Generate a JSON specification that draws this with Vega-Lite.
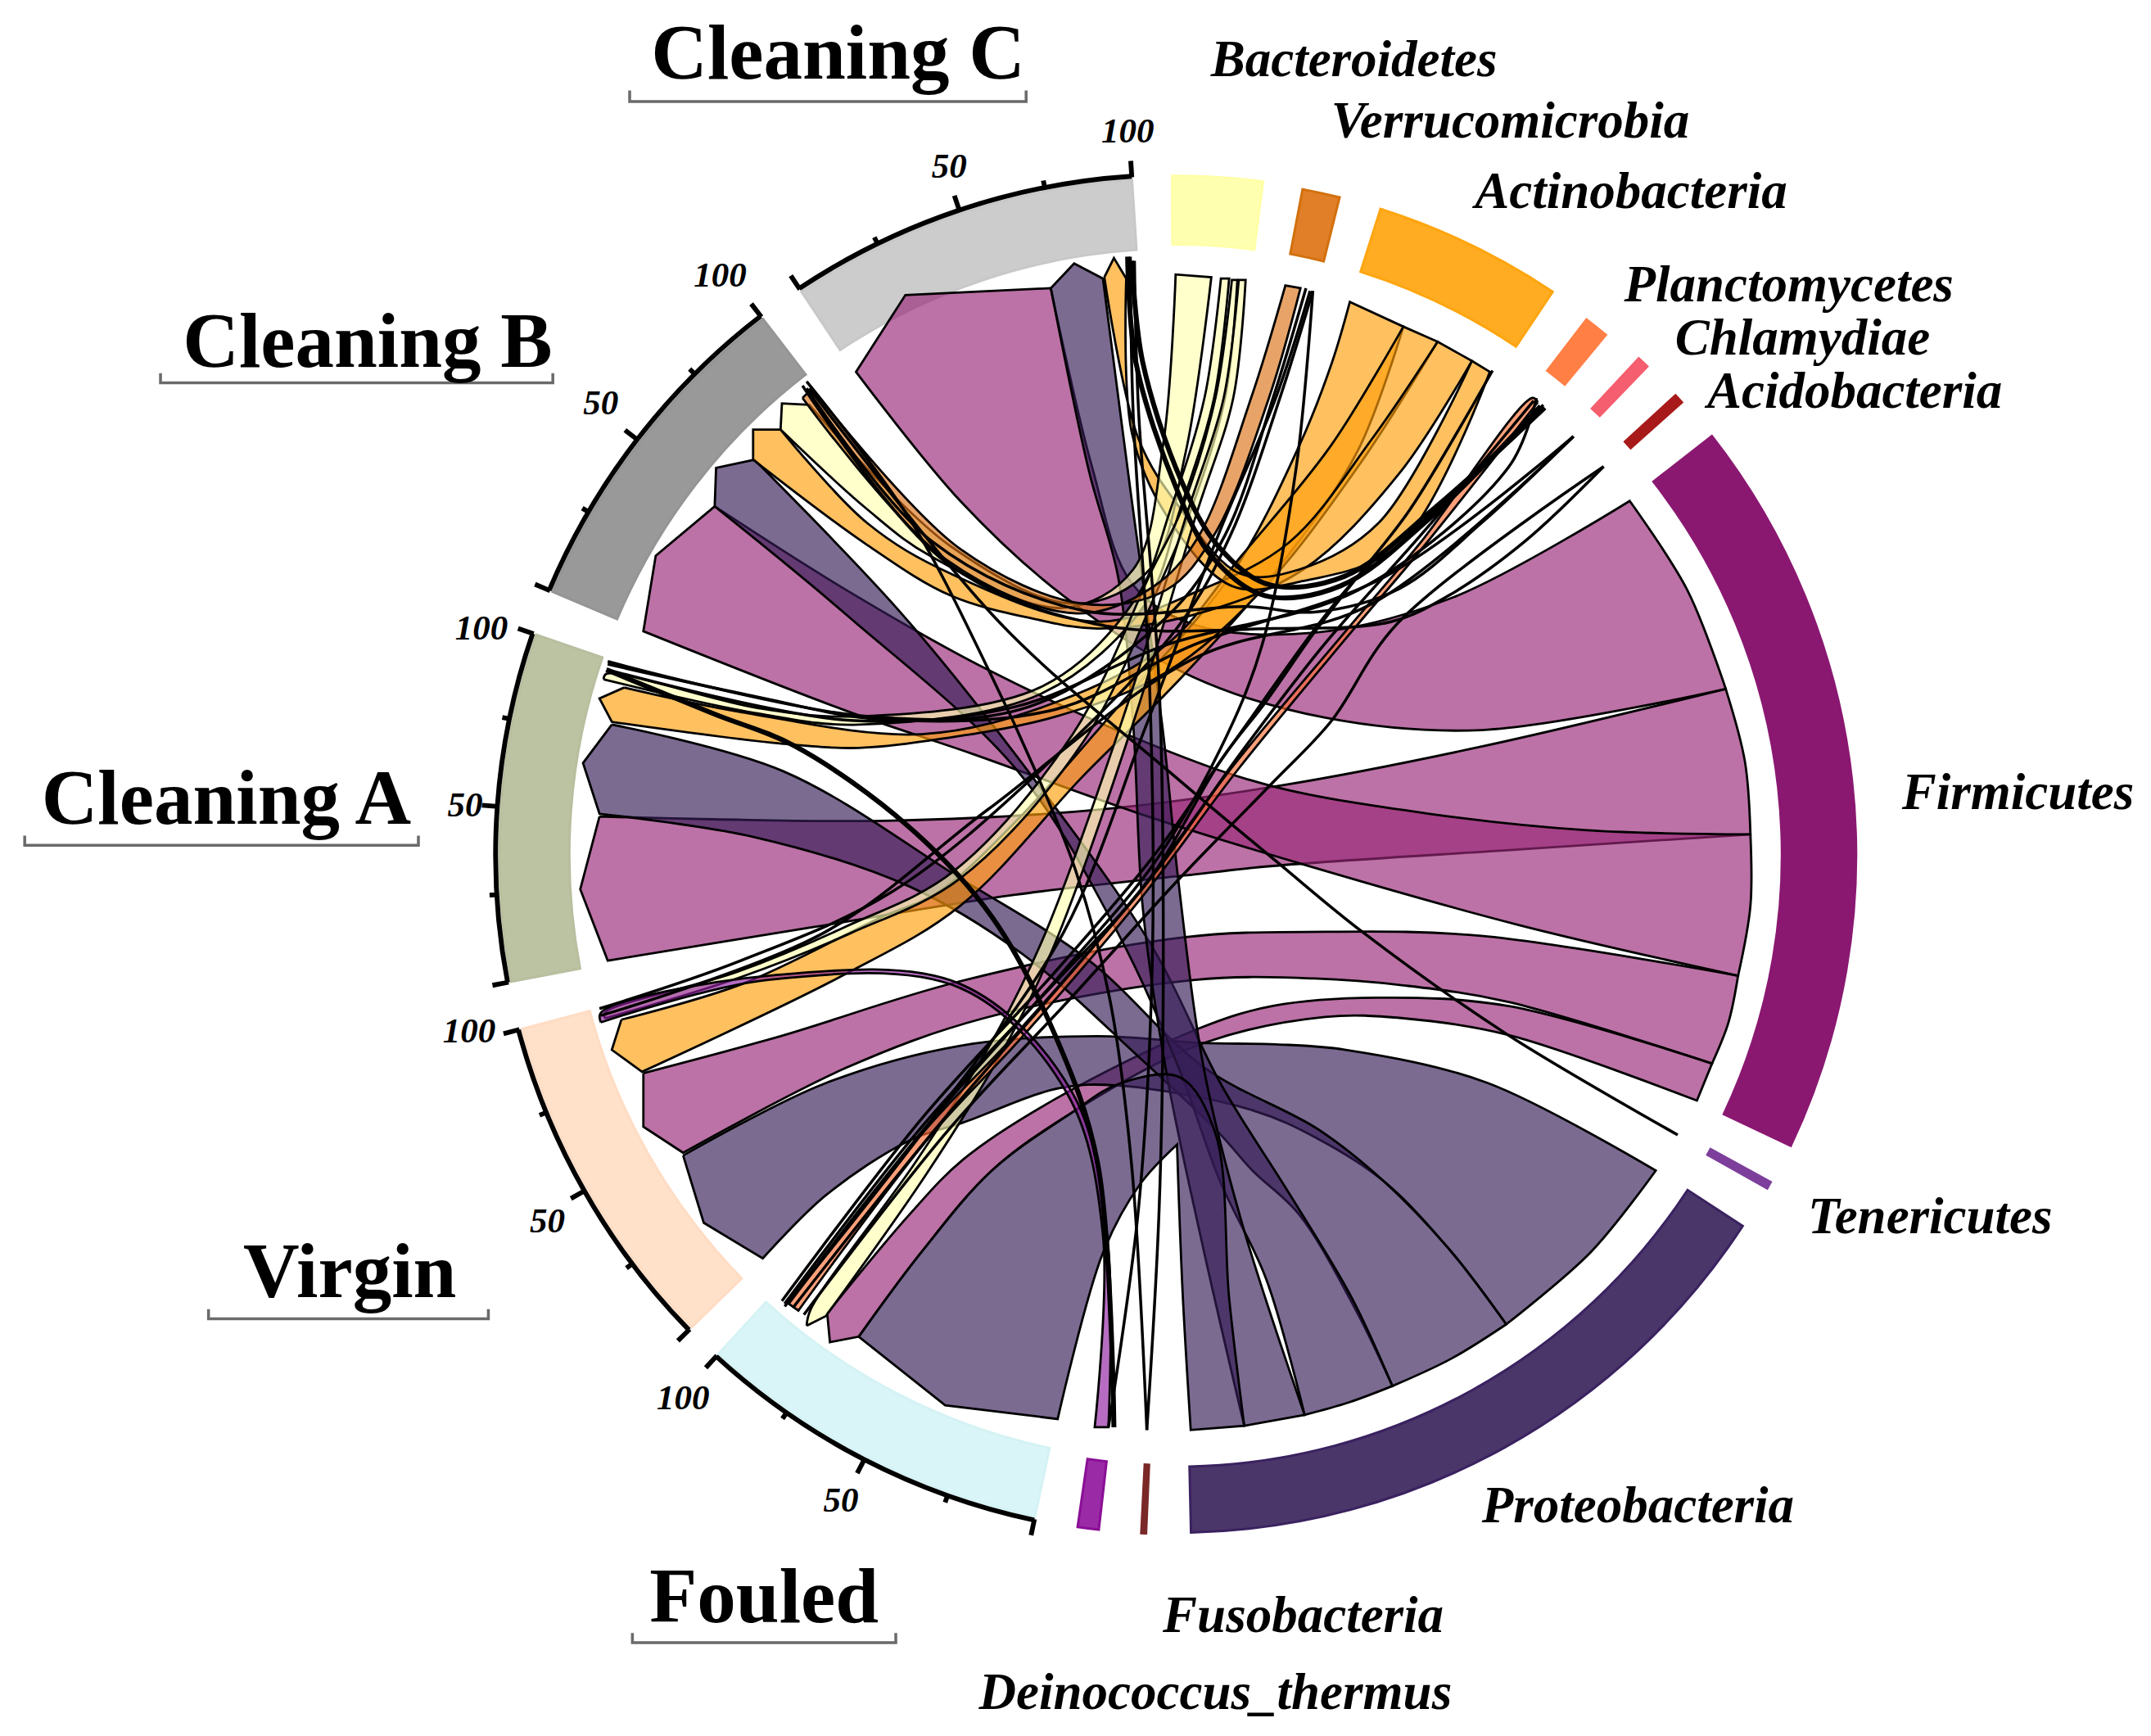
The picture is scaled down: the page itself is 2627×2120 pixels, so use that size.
{"$schema":"https://vega.github.io/schema/vega-lite/v6.json","width":2627,"height":2120,"padding":0,"autosize":{"type":"none"},"background":"white",
"config":{"view":{"stroke":null}},
"datasets":{
"sectors":[
{"name":"Cleaning C","a0":-33.6,"a1":-3.7,"r0":442,"r1":493},
{"name":"Cleaning B","a0":-67.1,"a1":-37.6,"r0":442,"r1":493},
{"name":"Cleaning A","a0":-100.8,"a1":-71,"r0":442,"r1":493},
{"name":"Virgin","a0":-134.3,"a1":-104.9,"r0":442,"r1":493},
{"name":"Fouled","a0":-168,"a1":-137.5,"r0":442,"r1":493},
{"name":"Fusobacteria","a0":-173.5,"a1":-171.7,"r0":445,"r1":495},
{"name":"Deinococcus_thermus","a0":-177.5,"a1":-177.1,"r0":445,"r1":495},
{"name":"Proteobacteria","a0":123.2,"a1":178.7,"r0":446,"r1":494},
{"name":"Tenericutes","a0":118.8,"a1":119.4,"r0":445,"r1":495},
{"name":"Firmicutes","a0":52,"a1":115.3,"r0":442,"r1":496},
{"name":"Acidobacteria","a0":47.4,"a1":48.2,"r0":445,"r1":495},
{"name":"Chlamydiae","a0":43,"a1":44,"r0":445,"r1":495},
{"name":"Planctomycetes","a0":37.5,"a1":39.6,"r0":445,"r1":492},
{"name":"Actinobacteria","a0":17.6,"a1":33.8,"r0":446,"r1":494},
{"name":"Verrucomicrobia","a0":10.8,"a1":14,"r0":446,"r1":494},
{"name":"Bacteroidetes","a0":-0.3,"a1":7.4,"r0":445,"r1":495}],
"axes":[
{"a0":-33.6,"a1":-3.7,"r0":494,"r1":497.5},{"a0":-67.1,"a1":-37.6,"r0":494,"r1":497.5},{"a0":-100.8,"a1":-71,"r0":494,"r1":497.5},{"a0":-134.3,"a1":-104.9,"r0":494,"r1":497.5},{"a0":-168,"a1":-137.5,"r0":494,"r1":497.5},
{"a0":-33.8,"a1":-33.4,"r0":495,"r1":507},{"a0":-26.2,"a1":-25.8,"r0":495,"r1":501},{"a0":-18.75,"a1":-18.35,"r0":495,"r1":507},{"a0":-11.3,"a1":-10.9,"r0":495,"r1":501},{"a0":-3.9,"a1":-3.5,"r0":495,"r1":507},
{"a0":-67.3,"a1":-66.9,"r0":495,"r1":507},{"a0":-59.9,"a1":-59.5,"r0":495,"r1":501},{"a0":-52.55,"a1":-52.15,"r0":495,"r1":507},{"a0":-45.2,"a1":-44.8,"r0":495,"r1":501},{"a0":-37.8,"a1":-37.4,"r0":495,"r1":507},
{"a0":-101,"a1":-100.6,"r0":495,"r1":507},{"a0":-93.55,"a1":-93.15,"r0":495,"r1":501},{"a0":-86.1,"a1":-85.7,"r0":495,"r1":507},{"a0":-78.65,"a1":-78.25,"r0":495,"r1":501},{"a0":-71.2,"a1":-70.8,"r0":495,"r1":507},
{"a0":-134.5,"a1":-134.1,"r0":495,"r1":507},{"a0":-127.15,"a1":-126.75,"r0":495,"r1":501},{"a0":-119.8,"a1":-119.4,"r0":495,"r1":507},{"a0":-112.45,"a1":-112.05,"r0":495,"r1":501},{"a0":-105.1,"a1":-104.7,"r0":495,"r1":507},
{"a0":-168.2,"a1":-167.8,"r0":495,"r1":507},{"a0":-160.6,"a1":-160.2,"r0":495,"r1":501},{"a0":-152.95,"a1":-152.55,"r0":495,"r1":507},{"a0":-145.3,"a1":-144.9,"r0":495,"r1":501},{"a0":-137.7,"a1":-137.3,"r0":495,"r1":507}],
"ribbons":[
{"r":"F1","p":"Firmicutes","x":766,"y":210},{"r":"F1","p":"Firmicutes","x":766,"y":210},{"r":"F1","p":"Firmicutes","x":660,"y":215},{"r":"F1","p":"Firmicutes","x":660,"y":215},{"r":"F1","p":"Firmicutes","x":624,"y":271},{"r":"F1","p":"Firmicutes","x":624,"y":271},{"r":"F1","p":"Firmicutes","x":700,"y":365},{"r":"F1","p":"Firmicutes","x":775,"y":434},{"r":"F1","p":"Firmicutes","x":869,"y":493},{"r":"F1","p":"Firmicutes","x":966,"y":523},{"r":"F1","p":"Firmicutes","x":1080,"y":532},{"r":"F1","p":"Firmicutes","x":1258,"y":502},{"r":"F1","p":"Firmicutes","x":1258,"y":502},{"r":"F1","p":"Firmicutes","x":1230,"y":430},{"r":"F1","p":"Firmicutes","x":1188,"y":365},{"r":"F1","p":"Firmicutes","x":1188,"y":365},{"r":"F1","p":"Firmicutes","x":1060,"y":435},{"r":"F1","p":"Firmicutes","x":958,"y":461},{"r":"F1","p":"Firmicutes","x":870,"y":455},{"r":"F1","p":"Firmicutes","x":825,"y":425},{"r":"F1","p":"Firmicutes","x":796,"y":340},{"r":"F1","p":"Firmicutes","x":766,"y":210},
{"r":"F2","p":"Firmicutes","x":437,"y":595},{"r":"F2","p":"Firmicutes","x":437,"y":595},{"r":"F2","p":"Firmicutes","x":423,"y":648},{"r":"F2","p":"Firmicutes","x":423,"y":648},{"r":"F2","p":"Firmicutes","x":443,"y":700},{"r":"F2","p":"Firmicutes","x":443,"y":700},{"r":"F2","p":"Firmicutes","x":590,"y":676},{"r":"F2","p":"Firmicutes","x":740,"y":652},{"r":"F2","p":"Firmicutes","x":863,"y":638},{"r":"F2","p":"Firmicutes","x":928,"y":631},{"r":"F2","p":"Firmicutes","x":1107,"y":619},{"r":"F2","p":"Firmicutes","x":1276,"y":608},{"r":"F2","p":"Firmicutes","x":1276,"y":608},{"r":"F2","p":"Firmicutes","x":1272,"y":555},{"r":"F2","p":"Firmicutes","x":1258,"y":502},{"r":"F2","p":"Firmicutes","x":1258,"y":502},{"r":"F2","p":"Firmicutes","x":1080,"y":544},{"r":"F2","p":"Firmicutes","x":936,"y":572},{"r":"F2","p":"Firmicutes","x":800,"y":590},{"r":"F2","p":"Firmicutes","x":651,"y":598},{"r":"F2","p":"Firmicutes","x":520,"y":597},{"r":"F2","p":"Firmicutes","x":437,"y":595},
{"r":"F3","p":"Firmicutes","x":521,"y":369},{"r":"F3","p":"Firmicutes","x":521,"y":369},{"r":"F3","p":"Firmicutes","x":478,"y":405},{"r":"F3","p":"Firmicutes","x":478,"y":405},{"r":"F3","p":"Firmicutes","x":469,"y":460},{"r":"F3","p":"Firmicutes","x":469,"y":460},{"r":"F3","p":"Firmicutes","x":617,"y":518},{"r":"F3","p":"Firmicutes","x":708,"y":549},{"r":"F3","p":"Firmicutes","x":831,"y":593},{"r":"F3","p":"Firmicutes","x":947,"y":629},{"r":"F3","p":"Firmicutes","x":1107,"y":674},{"r":"F3","p":"Firmicutes","x":1267,"y":711},{"r":"F3","p":"Firmicutes","x":1267,"y":711},{"r":"F3","p":"Firmicutes","x":1276,"y":660},{"r":"F3","p":"Firmicutes","x":1276,"y":608},{"r":"F3","p":"Firmicutes","x":1276,"y":608},{"r":"F3","p":"Firmicutes","x":1157,"y":605},{"r":"F3","p":"Firmicutes","x":1042,"y":593},{"r":"F3","p":"Firmicutes","x":928,"y":573},{"r":"F3","p":"Firmicutes","x":848,"y":546},{"r":"F3","p":"Firmicutes","x":720,"y":488},{"r":"F3","p":"Firmicutes","x":617,"y":430},{"r":"F3","p":"Firmicutes","x":521,"y":369},
{"r":"F4","p":"Firmicutes","x":469,"y":782},{"r":"F4","p":"Firmicutes","x":469,"y":782},{"r":"F4","p":"Firmicutes","x":469,"y":821},{"r":"F4","p":"Firmicutes","x":469,"y":821},{"r":"F4","p":"Firmicutes","x":498,"y":840},{"r":"F4","p":"Firmicutes","x":498,"y":840},{"r":"F4","p":"Firmicutes","x":617,"y":778},{"r":"F4","p":"Firmicutes","x":717,"y":742},{"r":"F4","p":"Firmicutes","x":871,"y":714},{"r":"F4","p":"Firmicutes","x":958,"y":713},{"r":"F4","p":"Firmicutes","x":1023,"y":718},{"r":"F4","p":"Firmicutes","x":1099,"y":730},{"r":"F4","p":"Firmicutes","x":1248,"y":775},{"r":"F4","p":"Firmicutes","x":1248,"y":775},{"r":"F4","p":"Firmicutes","x":1260,"y":745},{"r":"F4","p":"Firmicutes","x":1267,"y":711},{"r":"F4","p":"Firmicutes","x":1267,"y":711},{"r":"F4","p":"Firmicutes","x":1080,"y":682},{"r":"F4","p":"Firmicutes","x":966,"y":679},{"r":"F4","p":"Firmicutes","x":863,"y":683},{"r":"F4","p":"Firmicutes","x":700,"y":715},{"r":"F4","p":"Firmicutes","x":569,"y":755},{"r":"F4","p":"Firmicutes","x":469,"y":782},
{"r":"F5","p":"Firmicutes","x":603,"y":957},{"r":"F5","p":"Firmicutes","x":603,"y":957},{"r":"F5","p":"Firmicutes","x":605,"y":978},{"r":"F5","p":"Firmicutes","x":605,"y":978},{"r":"F5","p":"Firmicutes","x":626,"y":974},{"r":"F5","p":"Firmicutes","x":626,"y":974},{"r":"F5","p":"Firmicutes","x":672,"y":912},{"r":"F5","p":"Firmicutes","x":723,"y":853},{"r":"F5","p":"Firmicutes","x":781,"y":811},{"r":"F5","p":"Firmicutes","x":875,"y":761},{"r":"F5","p":"Firmicutes","x":966,"y":741},{"r":"F5","p":"Firmicutes","x":1023,"y":742},{"r":"F5","p":"Firmicutes","x":1099,"y":754},{"r":"F5","p":"Firmicutes","x":1237,"y":802},{"r":"F5","p":"Firmicutes","x":1237,"y":802},{"r":"F5","p":"Firmicutes","x":1248,"y":775},{"r":"F5","p":"Firmicutes","x":1248,"y":775},{"r":"F5","p":"Firmicutes","x":1099,"y":733},{"r":"F5","p":"Firmicutes","x":1004,"y":727},{"r":"F5","p":"Firmicutes","x":928,"y":733},{"r":"F5","p":"Firmicutes","x":875,"y":749},{"r":"F5","p":"Firmicutes","x":769,"y":801},{"r":"F5","p":"Firmicutes","x":702,"y":845},{"r":"F5","p":"Firmicutes","x":663,"y":885},{"r":"F5","p":"Firmicutes","x":603,"y":957},
{"r":"P1","p":"Proteobacteria","x":498,"y":842},{"r":"P1","p":"Proteobacteria","x":498,"y":842},{"r":"P1","p":"Proteobacteria","x":513,"y":891},{"r":"P1","p":"Proteobacteria","x":513,"y":891},{"r":"P1","p":"Proteobacteria","x":556,"y":917},{"r":"P1","p":"Proteobacteria","x":556,"y":917},{"r":"P1","p":"Proteobacteria","x":602,"y":871},{"r":"P1","p":"Proteobacteria","x":663,"y":831},{"r":"P1","p":"Proteobacteria","x":702,"y":818},{"r":"P1","p":"Proteobacteria","x":772,"y":793},{"r":"P1","p":"Proteobacteria","x":815,"y":791},{"r":"P1","p":"Proteobacteria","x":913,"y":809},{"r":"P1","p":"Proteobacteria","x":961,"y":830},{"r":"P1","p":"Proteobacteria","x":1009,"y":861},{"r":"P1","p":"Proteobacteria","x":1057,"y":911},{"r":"P1","p":"Proteobacteria","x":1098,"y":965},{"r":"P1","p":"Proteobacteria","x":1098,"y":965},{"r":"P1","p":"Proteobacteria","x":1160,"y":912},{"r":"P1","p":"Proteobacteria","x":1207,"y":853},{"r":"P1","p":"Proteobacteria","x":1207,"y":853},{"r":"P1","p":"Proteobacteria","x":1084,"y":789},{"r":"P1","p":"Proteobacteria","x":981,"y":765},{"r":"P1","p":"Proteobacteria","x":930,"y":761},{"r":"P1","p":"Proteobacteria","x":875,"y":760},{"r":"P1","p":"Proteobacteria","x":800,"y":755},{"r":"P1","p":"Proteobacteria","x":700,"y":762},{"r":"P1","p":"Proteobacteria","x":600,"y":790},{"r":"P1","p":"Proteobacteria","x":498,"y":842},
{"r":"P2","p":"Proteobacteria","x":446,"y":528},{"r":"P2","p":"Proteobacteria","x":446,"y":528},{"r":"P2","p":"Proteobacteria","x":425,"y":556},{"r":"P2","p":"Proteobacteria","x":425,"y":556},{"r":"P2","p":"Proteobacteria","x":437,"y":593},{"r":"P2","p":"Proteobacteria","x":437,"y":593},{"r":"P2","p":"Proteobacteria","x":550,"y":610},{"r":"P2","p":"Proteobacteria","x":663,"y":646},{"r":"P2","p":"Proteobacteria","x":745,"y":695},{"r":"P2","p":"Proteobacteria","x":830,"y":770},{"r":"P2","p":"Proteobacteria","x":889,"y":826},{"r":"P2","p":"Proteobacteria","x":913,"y":853},{"r":"P2","p":"Proteobacteria","x":947,"y":885},{"r":"P2","p":"Proteobacteria","x":988,"y":954},{"r":"P2","p":"Proteobacteria","x":1015,"y":1010},{"r":"P2","p":"Proteobacteria","x":1015,"y":1010},{"r":"P2","p":"Proteobacteria","x":1058,"y":990},{"r":"P2","p":"Proteobacteria","x":1098,"y":965},{"r":"P2","p":"Proteobacteria","x":1098,"y":965},{"r":"P2","p":"Proteobacteria","x":1057,"y":911},{"r":"P2","p":"Proteobacteria","x":1009,"y":861},{"r":"P2","p":"Proteobacteria","x":961,"y":823},{"r":"P2","p":"Proteobacteria","x":878,"y":778},{"r":"P2","p":"Proteobacteria","x":794,"y":700},{"r":"P2","p":"Proteobacteria","x":700,"y":640},{"r":"P2","p":"Proteobacteria","x":571,"y":562},{"r":"P2","p":"Proteobacteria","x":446,"y":528},
{"r":"P3","p":"Proteobacteria","x":550,"y":335},{"r":"P3","p":"Proteobacteria","x":550,"y":335},{"r":"P3","p":"Proteobacteria","x":522,"y":341},{"r":"P3","p":"Proteobacteria","x":522,"y":341},{"r":"P3","p":"Proteobacteria","x":521,"y":369},{"r":"P3","p":"Proteobacteria","x":521,"y":369},{"r":"P3","p":"Proteobacteria","x":617,"y":448},{"r":"P3","p":"Proteobacteria","x":742,"y":562},{"r":"P3","p":"Proteobacteria","x":815,"y":680},{"r":"P3","p":"Proteobacteria","x":860,"y":780},{"r":"P3","p":"Proteobacteria","x":889,"y":860},{"r":"P3","p":"Proteobacteria","x":923,"y":932},{"r":"P3","p":"Proteobacteria","x":951,"y":1031},{"r":"P3","p":"Proteobacteria","x":951,"y":1031},{"r":"P3","p":"Proteobacteria","x":983,"y":1022},{"r":"P3","p":"Proteobacteria","x":1015,"y":1010},{"r":"P3","p":"Proteobacteria","x":1015,"y":1010},{"r":"P3","p":"Proteobacteria","x":985,"y":945},{"r":"P3","p":"Proteobacteria","x":940,"y":870},{"r":"P3","p":"Proteobacteria","x":890,"y":790},{"r":"P3","p":"Proteobacteria","x":840,"y":690},{"r":"P3","p":"Proteobacteria","x":754,"y":568},{"r":"P3","p":"Proteobacteria","x":658,"y":448},{"r":"P3","p":"Proteobacteria","x":550,"y":335},
{"r":"P4","p":"Proteobacteria","x":766,"y":210},{"r":"P4","p":"Proteobacteria","x":766,"y":210},{"r":"P4","p":"Proteobacteria","x":783,"y":192},{"r":"P4","p":"Proteobacteria","x":783,"y":192},{"r":"P4","p":"Proteobacteria","x":804,"y":203},{"r":"P4","p":"Proteobacteria","x":804,"y":203},{"r":"P4","p":"Proteobacteria","x":824,"y":357},{"r":"P4","p":"Proteobacteria","x":848,"y":535},{"r":"P4","p":"Proteobacteria","x":859,"y":642},{"r":"P4","p":"Proteobacteria","x":878,"y":781},{"r":"P4","p":"Proteobacteria","x":905,"y":890},{"r":"P4","p":"Proteobacteria","x":951,"y":1031},{"r":"P4","p":"Proteobacteria","x":951,"y":1031},{"r":"P4","p":"Proteobacteria","x":907,"y":1039},{"r":"P4","p":"Proteobacteria","x":907,"y":1039},{"r":"P4","p":"Proteobacteria","x":875,"y":900},{"r":"P4","p":"Proteobacteria","x":850,"y":780},{"r":"P4","p":"Proteobacteria","x":833,"y":661},{"r":"P4","p":"Proteobacteria","x":826,"y":527},{"r":"P4","p":"Proteobacteria","x":815,"y":420},{"r":"P4","p":"Proteobacteria","x":794,"y":344},{"r":"P4","p":"Proteobacteria","x":766,"y":210},
{"r":"P5","p":"Proteobacteria","x":626,"y":974},{"r":"P5","p":"Proteobacteria","x":626,"y":974},{"r":"P5","p":"Proteobacteria","x":689,"y":1024},{"r":"P5","p":"Proteobacteria","x":689,"y":1024},{"r":"P5","p":"Proteobacteria","x":771,"y":1034},{"r":"P5","p":"Proteobacteria","x":771,"y":1034},{"r":"P5","p":"Proteobacteria","x":804,"y":913},{"r":"P5","p":"Proteobacteria","x":831,"y":863},{"r":"P5","p":"Proteobacteria","x":858,"y":834},{"r":"P5","p":"Proteobacteria","x":858,"y":834},{"r":"P5","p":"Proteobacteria","x":862,"y":940},{"r":"P5","p":"Proteobacteria","x":868,"y":1042},{"r":"P5","p":"Proteobacteria","x":868,"y":1042},{"r":"P5","p":"Proteobacteria","x":907,"y":1039},{"r":"P5","p":"Proteobacteria","x":907,"y":1039},{"r":"P5","p":"Proteobacteria","x":896,"y":946},{"r":"P5","p":"Proteobacteria","x":886,"y":826},{"r":"P5","p":"Proteobacteria","x":860,"y":785},{"r":"P5","p":"Proteobacteria","x":815,"y":790},{"r":"P5","p":"Proteobacteria","x":781,"y":811},{"r":"P5","p":"Proteobacteria","x":723,"y":853},{"r":"P5","p":"Proteobacteria","x":672,"y":912},{"r":"P5","p":"Proteobacteria","x":626,"y":974},
{"r":"O1","p":"Actinobacteria","x":453,"y":743},{"r":"O1","p":"Actinobacteria","x":453,"y":743},{"r":"O1","p":"Actinobacteria","x":446,"y":765},{"r":"O1","p":"Actinobacteria","x":446,"y":765},{"r":"O1","p":"Actinobacteria","x":468,"y":781},{"r":"O1","p":"Actinobacteria","x":468,"y":781},{"r":"O1","p":"Actinobacteria","x":614,"y":711},{"r":"O1","p":"Actinobacteria","x":700,"y":660},{"r":"O1","p":"Actinobacteria","x":790,"y":565},{"r":"O1","p":"Actinobacteria","x":860,"y":495},{"r":"O1","p":"Actinobacteria","x":935,"y":410},{"r":"O1","p":"Actinobacteria","x":990,"y":328},{"r":"O1","p":"Actinobacteria","x":1023,"y":238},{"r":"O1","p":"Actinobacteria","x":1023,"y":238},{"r":"O1","p":"Actinobacteria","x":984,"y":220},{"r":"O1","p":"Actinobacteria","x":984,"y":220},{"r":"O1","p":"Actinobacteria","x":971,"y":264},{"r":"O1","p":"Actinobacteria","x":947,"y":325},{"r":"O1","p":"Actinobacteria","x":898,"y":418},{"r":"O1","p":"Actinobacteria","x":815,"y":515},{"r":"O1","p":"Actinobacteria","x":742,"y":597},{"r":"O1","p":"Actinobacteria","x":684,"y":650},{"r":"O1","p":"Actinobacteria","x":641,"y":669},{"r":"O1","p":"Actinobacteria","x":541,"y":717},{"r":"O1","p":"Actinobacteria","x":453,"y":743},
{"r":"O2","p":"Actinobacteria","x":455,"y":501},{"r":"O2","p":"Actinobacteria","x":455,"y":501},{"r":"O2","p":"Actinobacteria","x":437,"y":509},{"r":"O2","p":"Actinobacteria","x":437,"y":509},{"r":"O2","p":"Actinobacteria","x":446,"y":526},{"r":"O2","p":"Actinobacteria","x":446,"y":526},{"r":"O2","p":"Actinobacteria","x":571,"y":542},{"r":"O2","p":"Actinobacteria","x":626,"y":545},{"r":"O2","p":"Actinobacteria","x":675,"y":540},{"r":"O2","p":"Actinobacteria","x":770,"y":522},{"r":"O2","p":"Actinobacteria","x":850,"y":490},{"r":"O2","p":"Actinobacteria","x":920,"y":430},{"r":"O2","p":"Actinobacteria","x":990,"y":340},{"r":"O2","p":"Actinobacteria","x":1048,"y":249},{"r":"O2","p":"Actinobacteria","x":1048,"y":249},{"r":"O2","p":"Actinobacteria","x":1023,"y":238},{"r":"O2","p":"Actinobacteria","x":1023,"y":238},{"r":"O2","p":"Actinobacteria","x":970,"y":325},{"r":"O2","p":"Actinobacteria","x":905,"y":405},{"r":"O2","p":"Actinobacteria","x":850,"y":470},{"r":"O2","p":"Actinobacteria","x":769,"y":512},{"r":"O2","p":"Actinobacteria","x":672,"y":535},{"r":"O2","p":"Actinobacteria","x":541,"y":519},{"r":"O2","p":"Actinobacteria","x":455,"y":501},
{"r":"O3","p":"Actinobacteria","x":569,"y":313},{"r":"O3","p":"Actinobacteria","x":569,"y":313},{"r":"O3","p":"Actinobacteria","x":549,"y":313},{"r":"O3","p":"Actinobacteria","x":549,"y":313},{"r":"O3","p":"Actinobacteria","x":549,"y":335},{"r":"O3","p":"Actinobacteria","x":549,"y":335},{"r":"O3","p":"Actinobacteria","x":632,"y":397},{"r":"O3","p":"Actinobacteria","x":693,"y":434},{"r":"O3","p":"Actinobacteria","x":754,"y":451},{"r":"O3","p":"Actinobacteria","x":800,"y":458},{"r":"O3","p":"Actinobacteria","x":870,"y":448},{"r":"O3","p":"Actinobacteria","x":950,"y":415},{"r":"O3","p":"Actinobacteria","x":1020,"y":345},{"r":"O3","p":"Actinobacteria","x":1073,"y":263},{"r":"O3","p":"Actinobacteria","x":1073,"y":263},{"r":"O3","p":"Actinobacteria","x":1048,"y":249},{"r":"O3","p":"Actinobacteria","x":1048,"y":249},{"r":"O3","p":"Actinobacteria","x":1000,"y":320},{"r":"O3","p":"Actinobacteria","x":940,"y":395},{"r":"O3","p":"Actinobacteria","x":875,"y":430},{"r":"O3","p":"Actinobacteria","x":800,"y":453},{"r":"O3","p":"Actinobacteria","x":693,"y":418},{"r":"O3","p":"Actinobacteria","x":632,"y":381},{"r":"O3","p":"Actinobacteria","x":569,"y":313},
{"r":"O4","p":"Actinobacteria","x":805,"y":202},{"r":"O4","p":"Actinobacteria","x":805,"y":202},{"r":"O4","p":"Actinobacteria","x":812,"y":188},{"r":"O4","p":"Actinobacteria","x":812,"y":188},{"r":"O4","p":"Actinobacteria","x":821,"y":203},{"r":"O4","p":"Actinobacteria","x":821,"y":203},{"r":"O4","p":"Actinobacteria","x":825,"y":315},{"r":"O4","p":"Actinobacteria","x":850,"y":375},{"r":"O4","p":"Actinobacteria","x":898,"y":427},{"r":"O4","p":"Actinobacteria","x":947,"y":424},{"r":"O4","p":"Actinobacteria","x":1020,"y":397},{"r":"O4","p":"Actinobacteria","x":1086,"y":271},{"r":"O4","p":"Actinobacteria","x":1086,"y":271},{"r":"O4","p":"Actinobacteria","x":1073,"y":263},{"r":"O4","p":"Actinobacteria","x":1073,"y":263},{"r":"O4","p":"Actinobacteria","x":1005,"y":381},{"r":"O4","p":"Actinobacteria","x":947,"y":415},{"r":"O4","p":"Actinobacteria","x":904,"y":418},{"r":"O4","p":"Actinobacteria","x":860,"y":370},{"r":"O4","p":"Actinobacteria","x":830,"y":320},{"r":"O4","p":"Actinobacteria","x":805,"y":202},
{"r":"Y1","p":"Bacteroidetes","x":569,"y":313},{"r":"Y1","p":"Bacteroidetes","x":569,"y":313},{"r":"Y1","p":"Bacteroidetes","x":570,"y":294},{"r":"Y1","p":"Bacteroidetes","x":570,"y":294},{"r":"Y1","p":"Bacteroidetes","x":590,"y":295},{"r":"Y1","p":"Bacteroidetes","x":590,"y":295},{"r":"Y1","p":"Bacteroidetes","x":693,"y":398},{"r":"Y1","p":"Bacteroidetes","x":784,"y":440},{"r":"Y1","p":"Bacteroidetes","x":838,"y":415},{"r":"Y1","p":"Bacteroidetes","x":864,"y":331},{"r":"Y1","p":"Bacteroidetes","x":883,"y":202},{"r":"Y1","p":"Bacteroidetes","x":883,"y":202},{"r":"Y1","p":"Bacteroidetes","x":857,"y":200},{"r":"Y1","p":"Bacteroidetes","x":857,"y":200},{"r":"Y1","p":"Bacteroidetes","x":848,"y":323},{"r":"Y1","p":"Bacteroidetes","x":826,"y":415},{"r":"Y1","p":"Bacteroidetes","x":775,"y":443},{"r":"Y1","p":"Bacteroidetes","x":678,"y":405},{"r":"Y1","p":"Bacteroidetes","x":632,"y":371},{"r":"Y1","p":"Bacteroidetes","x":569,"y":313},
{"r":"Y2","p":"Bacteroidetes","x":440,"y":495},{"r":"Y2","p":"Bacteroidetes","x":440,"y":495},{"r":"Y2","p":"Bacteroidetes","x":553,"y":520},{"r":"Y2","p":"Bacteroidetes","x":626,"y":528},{"r":"Y2","p":"Bacteroidetes","x":760,"y":505},{"r":"Y2","p":"Bacteroidetes","x":835,"y":440},{"r":"Y2","p":"Bacteroidetes","x":860,"y":372},{"r":"Y2","p":"Bacteroidetes","x":885,"y":290},{"r":"Y2","p":"Bacteroidetes","x":896,"y":203},{"r":"Y2","p":"Bacteroidetes","x":896,"y":203},{"r":"Y2","p":"Bacteroidetes","x":890,"y":203},{"r":"Y2","p":"Bacteroidetes","x":890,"y":203},{"r":"Y2","p":"Bacteroidetes","x":878,"y":290},{"r":"Y2","p":"Bacteroidetes","x":853,"y":372},{"r":"Y2","p":"Bacteroidetes","x":828,"y":436},{"r":"Y2","p":"Bacteroidetes","x":760,"y":500},{"r":"Y2","p":"Bacteroidetes","x":626,"y":522},{"r":"Y2","p":"Bacteroidetes","x":553,"y":516},{"r":"Y2","p":"Bacteroidetes","x":442,"y":491},{"r":"Y2","p":"Bacteroidetes","x":440,"y":495},
{"r":"Y3","p":"Bacteroidetes","x":441,"y":742},{"r":"Y3","p":"Bacteroidetes","x":441,"y":742},{"r":"Y3","p":"Bacteroidetes","x":540,"y":712},{"r":"Y3","p":"Bacteroidetes","x":620,"y":680},{"r":"Y3","p":"Bacteroidetes","x":700,"y":640},{"r":"Y3","p":"Bacteroidetes","x":790,"y":540},{"r":"Y3","p":"Bacteroidetes","x":848,"y":420},{"r":"Y3","p":"Bacteroidetes","x":868,"y":372},{"r":"Y3","p":"Bacteroidetes","x":893,"y":290},{"r":"Y3","p":"Bacteroidetes","x":902,"y":204},{"r":"Y3","p":"Bacteroidetes","x":902,"y":204},{"r":"Y3","p":"Bacteroidetes","x":898,"y":204},{"r":"Y3","p":"Bacteroidetes","x":898,"y":204},{"r":"Y3","p":"Bacteroidetes","x":886,"y":290},{"r":"Y3","p":"Bacteroidetes","x":861,"y":372},{"r":"Y3","p":"Bacteroidetes","x":840,"y":415},{"r":"Y3","p":"Bacteroidetes","x":782,"y":535},{"r":"Y3","p":"Bacteroidetes","x":695,"y":635},{"r":"Y3","p":"Bacteroidetes","x":617,"y":675},{"r":"Y3","p":"Bacteroidetes","x":538,"y":708},{"r":"Y3","p":"Bacteroidetes","x":441,"y":738},{"r":"Y3","p":"Bacteroidetes","x":441,"y":742},
{"r":"Y4","p":"Bacteroidetes","x":588,"y":966},{"r":"Y4","p":"Bacteroidetes","x":588,"y":966},{"r":"Y4","p":"Bacteroidetes","x":602,"y":959},{"r":"Y4","p":"Bacteroidetes","x":602,"y":959},{"r":"Y4","p":"Bacteroidetes","x":675,"y":856},{"r":"Y4","p":"Bacteroidetes","x":733,"y":762},{"r":"Y4","p":"Bacteroidetes","x":768,"y":690},{"r":"Y4","p":"Bacteroidetes","x":825,"y":530},{"r":"Y4","p":"Bacteroidetes","x":872,"y":375},{"r":"Y4","p":"Bacteroidetes","x":899,"y":290},{"r":"Y4","p":"Bacteroidetes","x":908,"y":204},{"r":"Y4","p":"Bacteroidetes","x":908,"y":204},{"r":"Y4","p":"Bacteroidetes","x":903,"y":204},{"r":"Y4","p":"Bacteroidetes","x":903,"y":204},{"r":"Y4","p":"Bacteroidetes","x":892,"y":290},{"r":"Y4","p":"Bacteroidetes","x":865,"y":375},{"r":"Y4","p":"Bacteroidetes","x":818,"y":525},{"r":"Y4","p":"Bacteroidetes","x":762,"y":680},{"r":"Y4","p":"Bacteroidetes","x":727,"y":752},{"r":"Y4","p":"Bacteroidetes","x":668,"y":846},{"r":"Y4","p":"Bacteroidetes","x":591,"y":954},{"r":"Y4","p":"Bacteroidetes","x":588,"y":966},
{"r":"V1","p":"Verrucomicrobia","x":585,"y":290},{"r":"V1","p":"Verrucomicrobia","x":585,"y":290},{"r":"V1","p":"Verrucomicrobia","x":592,"y":283},{"r":"V1","p":"Verrucomicrobia","x":592,"y":283},{"r":"V1","p":"Verrucomicrobia","x":700,"y":400},{"r":"V1","p":"Verrucomicrobia","x":790,"y":440},{"r":"V1","p":"Verrucomicrobia","x":850,"y":430},{"r":"V1","p":"Verrucomicrobia","x":885,"y":390},{"r":"V1","p":"Verrucomicrobia","x":925,"y":290},{"r":"V1","p":"Verrucomicrobia","x":948,"y":210},{"r":"V1","p":"Verrucomicrobia","x":948,"y":210},{"r":"V1","p":"Verrucomicrobia","x":937,"y":208},{"r":"V1","p":"Verrucomicrobia","x":937,"y":208},{"r":"V1","p":"Verrucomicrobia","x":912,"y":290},{"r":"V1","p":"Verrucomicrobia","x":873,"y":392},{"r":"V1","p":"Verrucomicrobia","x":840,"y":428},{"r":"V1","p":"Verrucomicrobia","x":785,"y":447},{"r":"V1","p":"Verrucomicrobia","x":690,"y":408},{"r":"V1","p":"Verrucomicrobia","x":585,"y":290},
{"r":"S1","p":"Planctomycetes","x":1121,"y":293},{"r":"S1","p":"Planctomycetes","x":1121,"y":293},{"r":"S1","p":"Planctomycetes","x":1038,"y":398},{"r":"S1","p":"Planctomycetes","x":983,"y":463},{"r":"S1","p":"Planctomycetes","x":903,"y":560},{"r":"S1","p":"Planctomycetes","x":833,"y":653},{"r":"S1","p":"Planctomycetes","x":743,"y":758},{"r":"S1","p":"Planctomycetes","x":678,"y":828},{"r":"S1","p":"Planctomycetes","x":582,"y":955},{"r":"S1","p":"Planctomycetes","x":582,"y":955},{"r":"S1","p":"Planctomycetes","x":575,"y":950},{"r":"S1","p":"Planctomycetes","x":575,"y":950},{"r":"S1","p":"Planctomycetes","x":674,"y":824},{"r":"S1","p":"Planctomycetes","x":740,"y":754},{"r":"S1","p":"Planctomycetes","x":830,"y":650},{"r":"S1","p":"Planctomycetes","x":899,"y":558},{"r":"S1","p":"Planctomycetes","x":980,"y":461},{"r":"S1","p":"Planctomycetes","x":1035,"y":396},{"r":"S1","p":"Planctomycetes","x":1117,"y":290},{"r":"S1","p":"Planctomycetes","x":1121,"y":293},
{"r":"U1","p":"Fusobacteria","x":438,"y":745},{"r":"U1","p":"Fusobacteria","x":438,"y":745},{"r":"U1","p":"Fusobacteria","x":560,"y":714},{"r":"U1","p":"Fusobacteria","x":700,"y":720},{"r":"U1","p":"Fusobacteria","x":778,"y":797},{"r":"U1","p":"Fusobacteria","x":804,"y":900},{"r":"U1","p":"Fusobacteria","x":798,"y":1040},{"r":"U1","p":"Fusobacteria","x":798,"y":1040},{"r":"U1","p":"Fusobacteria","x":808,"y":1040},{"r":"U1","p":"Fusobacteria","x":808,"y":1040},{"r":"U1","p":"Fusobacteria","x":807,"y":900},{"r":"U1","p":"Fusobacteria","x":781,"y":795},{"r":"U1","p":"Fusobacteria","x":700,"y":717},{"r":"U1","p":"Fusobacteria","x":560,"y":711},{"r":"U1","p":"Fusobacteria","x":438,"y":738},{"r":"U1","p":"Fusobacteria","x":438,"y":745}],
"thin":[
{"l":"t1","x":588,"y":283},{"l":"t1","x":680,"y":395},{"l":"t1","x":790,"y":445},{"l":"t1","x":909,"y":442},{"l":"t1","x":958,"y":446},{"l":"t1","x":1020,"y":429},{"l":"t1","x":1080,"y":381},{"l":"t1","x":1147,"y":318},
{"l":"t2","x":585,"y":281},{"l":"t2","x":690,"y":410},{"l":"t2","x":800,"y":455},{"l":"t2","x":928,"y":458},{"l":"t2","x":1014,"y":453},{"l":"t2","x":1056,"y":434},{"l":"t2","x":1111,"y":395},{"l":"t2","x":1169,"y":340},
{"l":"t3","x":1223,"y":827},{"l":"t3","x":1099,"y":754},{"l":"t3","x":993,"y":679},{"l":"t3","x":932,"y":629},{"l":"t3","x":852,"y":562},{"l":"t3","x":730,"y":455},{"l":"t3","x":590,"y":283},
{"l":"t4","x":588,"y":278},{"l":"t4","x":663,"y":378},{"l":"t4","x":723,"y":493},{"l":"t4","x":754,"y":560},{"l":"t4","x":784,"y":634},{"l":"t4","x":809,"y":728},{"l":"t4","x":825,"y":850},{"l":"t4","x":836,"y":1042},
{"l":"t5","x":824,"y":187},{"l":"t5","x":826,"y":300},{"l":"t5","x":838,"y":500},{"l":"t5","x":840,"y":700},{"l":"t5","x":830,"y":880},{"l":"t5","x":808,"y":1040},
{"l":"t6","x":827,"y":190},{"l":"t6","x":830,"y":300},{"l":"t6","x":845,"y":500},{"l":"t6","x":848,"y":700},{"l":"t6","x":845,"y":880},{"l":"t6","x":836,"y":1042},
{"l":"t7","x":1088,"y":270},{"l":"t7","x":1028,"y":371},{"l":"t7","x":989,"y":421},{"l":"t7","x":958,"y":461},{"l":"t7","x":923,"y":511},{"l":"t7","x":890,"y":554},{"l":"t7","x":837,"y":642},{"l":"t7","x":770,"y":715},{"l":"t7","x":672,"y":821},{"l":"t7","x":572,"y":950},
{"l":"t8","x":1169,"y":340},{"l":"t8","x":1019,"y":454},{"l":"t8","x":970,"y":526},{"l":"t8","x":928,"y":570},{"l":"t8","x":860,"y":640},{"l":"t8","x":780,"y":728},{"l":"t8","x":690,"y":825},{"l":"t8","x":586,"y":958},
{"l":"t9","x":955,"y":212},{"l":"t9","x":930,"y":290},{"l":"t9","x":888,"y":390},{"l":"t9","x":835,"y":530},{"l":"t9","x":775,"y":680},{"l":"t9","x":680,"y":815},{"l":"t9","x":572,"y":952},
{"l":"t10","x":443,"y":482},{"l":"t10","x":632,"y":522},{"l":"t10","x":750,"y":515},{"l":"t10","x":850,"y":450},{"l":"t10","x":893,"y":390},{"l":"t10","x":928,"y":290},{"l":"t10","x":952,"y":210},
{"l":"t11","x":437,"y":735},{"l":"t11","x":540,"y":700},{"l":"t11","x":650,"y":650},{"l":"t11","x":760,"y":560},{"l":"t11","x":860,"y":455},{"l":"t11","x":897,"y":390},{"l":"t11","x":933,"y":290},{"l":"t11","x":957,"y":212},
{"l":"t12","x":443,"y":488},{"l":"t12","x":620,"y":525},{"l":"t12","x":740,"y":515},{"l":"t12","x":850,"y":470},{"l":"t12","x":990,"y":430},{"l":"t12","x":1100,"y":340},{"l":"t12","x":1120,"y":290},
{"l":"t13","x":438,"y":740},{"l":"t13","x":600,"y":680},{"l":"t13","x":720,"y":590},{"l":"t13","x":870,"y":480},{"l":"t13","x":1000,"y":440},{"l":"t13","x":1147,"y":318},
{"l":"t14","x":570,"y":948},{"l":"t14","x":672,"y":815},{"l":"t14","x":772,"y":705},{"l":"t14","x":840,"y":625},{"l":"t14","x":900,"y":540},{"l":"t14","x":990,"y":420},{"l":"t14","x":1060,"y":360},{"l":"t14","x":1125,"y":295},
{"l":"t15","x":578,"y":953},{"l":"t15","x":680,"y":825},{"l":"t15","x":778,"y":712},{"l":"t15","x":845,"y":632},{"l":"t15","x":905,"y":548},{"l":"t15","x":965,"y":470},{"l":"t15","x":1040,"y":385},{"l":"t15","x":1118,"y":292},
{"l":"t16","x":574,"y":950},{"l":"t16","x":676,"y":820},{"l":"t16","x":775,"y":708},{"l":"t16","x":842,"y":628},{"l":"t16","x":890,"y":545},{"l":"t16","x":920,"y":470},{"l":"t16","x":945,"y":340},{"l":"t16","x":957,"y":212},
{"l":"t17","x":443,"y":484},{"l":"t17","x":553,"y":508},{"l":"t17","x":641,"y":524},{"l":"t17","x":769,"y":517},{"l":"t17","x":870,"y":470},{"l":"t17","x":1010,"y":420},{"l":"t17","x":1147,"y":318}],
"thick":[
{"l":"k1","x":822,"y":187},{"l":"k1","x":828,"y":264},{"l":"k1","x":858,"y":357},{"l":"k1","x":883,"y":405},{"l":"k1","x":922,"y":434},{"l":"k1","x":977,"y":427},{"l":"k1","x":1044,"y":376},{"l":"k1","x":1123,"y":296},
{"l":"k3","x":825,"y":190},{"l":"k3","x":833,"y":264},{"l":"k3","x":861,"y":350},{"l":"k3","x":888,"y":398},{"l":"k3","x":925,"y":426},{"l":"k3","x":980,"y":420},{"l":"k3","x":1046,"y":370},{"l":"k3","x":1126,"y":297},
{"l":"k2","x":442,"y":488},{"l":"k2","x":520,"y":520},{"l":"k2","x":580,"y":544},{"l":"k2","x":662,"y":602},{"l":"k2","x":723,"y":668},{"l":"k2","x":769,"y":754},{"l":"k2","x":800,"y":847},{"l":"k2","x":812,"y":1040}],
"underlines":[
{"u":"a","x":459,"y":66},{"u":"a","x":459,"y":74},{"u":"a","x":748,"y":74},{"u":"a","x":748,"y":66},
{"u":"b","x":117,"y":272},{"u":"b","x":117,"y":279},{"u":"b","x":403,"y":279},{"u":"b","x":403,"y":272},
{"u":"c","x":18,"y":609},{"u":"c","x":18,"y":616},{"u":"c","x":305,"y":616},{"u":"c","x":305,"y":609},
{"u":"d","x":152,"y":954},{"u":"d","x":152,"y":961},{"u":"d","x":356,"y":961},{"u":"d","x":356,"y":954},
{"u":"e","x":461,"y":1190},{"u":"e","x":461,"y":1197},{"u":"e","x":653,"y":1197},{"u":"e","x":653,"y":1190}],
"titles":[{"t":"Cleaning C","x":611,"y":40},{"t":"Cleaning B","x":268,"y":250},{"t":"Cleaning A","x":165,"y":583},{"t":"Virgin","x":255,"y":928},{"t":"Fouled","x":557,"y":1165}],
"phyla":[{"t":"Bacteroidetes","x":987,"y":44},{"t":"Verrucomicrobia","x":1101,"y":89},{"t":"Actinobacteria","x":1189,"y":140},{"t":"Planctomycetes","x":1304,"y":208},{"t":"Chlamydiae","x":1314,"y":247},{"t":"Acidobacteria","x":1352,"y":286},{"t":"Firmicutes","x":1471,"y":578},{"t":"Tenericutes","x":1407,"y":887},{"t":"Proteobacteria","x":1194,"y":1098},{"t":"Fusobacteria","x":950,"y":1178},{"t":"Deinococcus_thermus","x":886,"y":1234}],
"ticklabels":[{"t":"100","x":822,"y":96},{"t":"50","x":692,"y":122},{"t":"100","x":525,"y":201},{"t":"50","x":438,"y":294},{"t":"100","x":351,"y":458},{"t":"50","x":339,"y":587},{"t":"100","x":342,"y":752},{"t":"50","x":399,"y":890},{"t":"100","x":498,"y":1019},{"t":"50","x":613,"y":1094}]
},
"resolve":{"scale":{"fill":"independent","stroke":"independent"}},
"layer":[
{"data":{"name":"sectors"},"mark":{"type":"arc","strokeWidth":3},
"encoding":{
"x":{"datum":857,"type":"quantitative","scale":{"domain":[0,1568]},"axis":null},
"y":{"datum":623,"type":"quantitative","scale":{"domain":[0,1265],"reverse":true},"axis":null},
"theta":{"field":"a0","type":"quantitative","scale":{"domain":[-180,180],"range":[-3.14159265,3.14159265]}},"theta2":{"field":"a1"},
"radius":{"field":"r0","type":"quantitative","scale":{"domain":[0,600],"range":[0,1005.2]}},"radius2":{"field":"r1"},
"fill":{"field":"name","type":"nominal","legend":null,"scale":{"domain":["Cleaning C","Cleaning B","Cleaning A","Virgin","Fouled","Fusobacteria","Deinococcus_thermus","Proteobacteria","Tenericutes","Firmicutes","Acidobacteria","Chlamydiae","Planctomycetes","Actinobacteria","Verrucomicrobia","Bacteroidetes"],"range":["#cccccc","#999999","#bcc3a3","#ffe0c8","#d9f5f7","#9a2aa5","#7a2828","#4b3669","#7d3f9b","#8a1871","#a81a1a","#f55e6e","#ff7f45","#ffac22","#e07f28","#ffffb0"]}},
"stroke":{"field":"name","type":"nominal","legend":null,"scale":{"domain":["Cleaning C","Cleaning B","Cleaning A","Virgin","Fouled","Fusobacteria","Deinococcus_thermus","Proteobacteria","Tenericutes","Firmicutes","Acidobacteria","Chlamydiae","Planctomycetes","Actinobacteria","Verrucomicrobia","Bacteroidetes"],"range":["#c8c8c8","#959595","#b8bf9f","#ffdcc4","#d5f2f4","#8a0f96","#7a2828","#3a2260","#7d3f9b","#8a1871","#a81a1a","#f55e6e","#ff7f45","#ffa50f","#d2700d","#ffffa8"]}}}},
{"data":{"name":"axes"},"mark":{"type":"arc","fill":"black"},
"encoding":{
"x":{"datum":857,"type":"quantitative","scale":{"domain":[0,1568]},"axis":null},
"y":{"datum":623,"type":"quantitative","scale":{"domain":[0,1265],"reverse":true},"axis":null},
"theta":{"field":"a0","type":"quantitative","scale":{"domain":[-180,180],"range":[-3.14159265,3.14159265]}},"theta2":{"field":"a1"},
"radius":{"field":"r0","type":"quantitative","scale":{"domain":[0,600],"range":[0,1005.2]}},"radius2":{"field":"r1"}}},
{"data":{"name":"ribbons"},"transform":[{"window":[{"op":"row_number","as":"n"}]}],"mark":{"type":"line","filled":true,"interpolate":"catmull-rom","tension":0.5,"stroke":"black","strokeWidth":2.8,"fillOpacity":0.65,"strokeJoin":"miter"},
"encoding":{
"x":{"field":"x","type":"quantitative","scale":{"domain":[0,1568]},"axis":null},
"y":{"field":"y","type":"quantitative","scale":{"domain":[0,1265],"reverse":true},"axis":null},
"detail":{"field":"r"},"order":{"field":"n","type":"quantitative"},
"fill":{"field":"p","type":"nominal","legend":null,"scale":{"domain":["Firmicutes","Proteobacteria","Actinobacteria","Bacteroidetes","Verrucomicrobia","Planctomycetes","Fusobacteria"],"range":["#982676","#341c56","#ff9e0b","#ffffb1","#dc7317","#ff6d33","#8f1f9f"]}}}},
{"data":{"name":"thin"},"transform":[{"window":[{"op":"row_number","as":"n"}]}],"mark":{"type":"line","interpolate":"catmull-rom","tension":0.5,"stroke":"black","strokeWidth":3.5},
"encoding":{"x":{"field":"x","type":"quantitative","scale":{"domain":[0,1568]},"axis":null},"y":{"field":"y","type":"quantitative","scale":{"domain":[0,1265],"reverse":true},"axis":null},"detail":{"field":"l"},"order":{"field":"n","type":"quantitative"}}},
{"data":{"name":"thick"},"transform":[{"window":[{"op":"row_number","as":"n"}]}],"mark":{"type":"line","interpolate":"catmull-rom","tension":0.5,"stroke":"black","strokeWidth":6},
"encoding":{"x":{"field":"x","type":"quantitative","scale":{"domain":[0,1568]},"axis":null},"y":{"field":"y","type":"quantitative","scale":{"domain":[0,1265],"reverse":true},"axis":null},"detail":{"field":"l"},"order":{"field":"n","type":"quantitative"}}},
{"data":{"name":"underlines"},"transform":[{"window":[{"op":"row_number","as":"n"}]}],"mark":{"type":"line","stroke":"#6a6a6a","strokeWidth":3.5},
"encoding":{"x":{"field":"x","type":"quantitative","scale":{"domain":[0,1568]},"axis":null},"y":{"field":"y","type":"quantitative","scale":{"domain":[0,1265],"reverse":true},"axis":null},"detail":{"field":"u"},"order":{"field":"n","type":"quantitative"}}},
{"data":{"name":"titles"},"mark":{"type":"text","font":"Liberation Serif","fontWeight":"bold","fontSize":95,"fill":"black","align":"center","baseline":"middle"},
"encoding":{"x":{"field":"x","type":"quantitative","scale":{"domain":[0,1568]},"axis":null},"y":{"field":"y","type":"quantitative","scale":{"domain":[0,1265],"reverse":true},"axis":null},"text":{"field":"t"}}},
{"data":{"name":"phyla"},"mark":{"type":"text","font":"Liberation Serif","fontWeight":"bold","fontStyle":"italic","fontSize":63,"fill":"black","align":"center","baseline":"middle"},
"encoding":{"x":{"field":"x","type":"quantitative","scale":{"domain":[0,1568]},"axis":null},"y":{"field":"y","type":"quantitative","scale":{"domain":[0,1265],"reverse":true},"axis":null},"text":{"field":"t"}}},
{"data":{"name":"ticklabels"},"mark":{"type":"text","font":"Liberation Serif","fontWeight":"bold","fontStyle":"italic","fontSize":43,"fill":"black","align":"center","baseline":"middle"},
"encoding":{"x":{"field":"x","type":"quantitative","scale":{"domain":[0,1568]},"axis":null},"y":{"field":"y","type":"quantitative","scale":{"domain":[0,1265],"reverse":true},"axis":null},"text":{"field":"t"}}}
]}
